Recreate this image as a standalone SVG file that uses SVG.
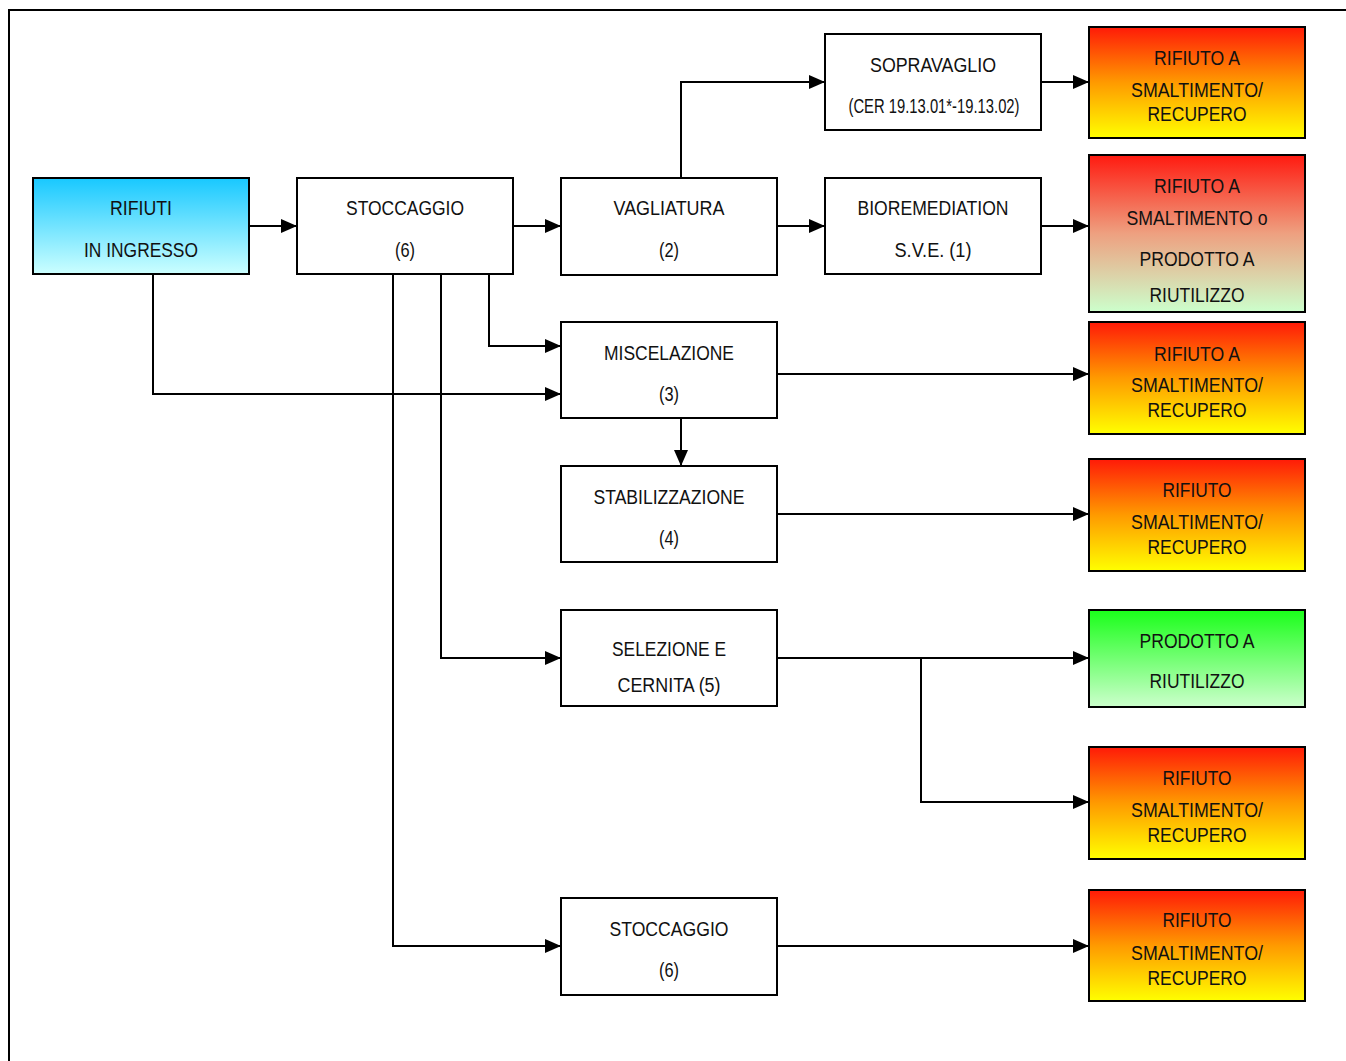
<svg xmlns="http://www.w3.org/2000/svg" width="1346" height="1061" viewBox="0 0 1346 1061">
<style>
.box{stroke:#000;stroke-width:2}
.w{fill:#fff}
.t{font-family:"Liberation Sans",Arial,sans-serif;font-size:20px;fill:#111;text-anchor:middle}
.c{fill:none;stroke:#000;stroke-width:2}
</style>
<defs>
<linearGradient id="gBlue" x1="0" y1="0" x2="0" y2="1"><stop offset="0" stop-color="#18c8ff"/><stop offset="1" stop-color="#ccffff"/></linearGradient>
<linearGradient id="gRY" x1="0" y1="0" x2="0" y2="1"><stop offset="0" stop-color="#ff1a08"/><stop offset="0.5" stop-color="#ff9a00"/><stop offset="1" stop-color="#ffff00"/></linearGradient>
<linearGradient id="gRG" x1="0" y1="0" x2="0" y2="1"><stop offset="0" stop-color="#ff1a10"/><stop offset="0.5" stop-color="#eea080"/><stop offset="1" stop-color="#ccffcc"/></linearGradient>
<linearGradient id="gG" x1="0" y1="0" x2="0" y2="1"><stop offset="0" stop-color="#1aff1a"/><stop offset="1" stop-color="#ccffcc"/></linearGradient>
<marker id="arr" markerWidth="16" markerHeight="14" refX="16" refY="7" orient="auto" markerUnits="userSpaceOnUse"><path d="M0,0 L16,7 L0,14 Z" fill="#000"/></marker>
</defs>
<rect width="1346" height="1061" fill="#fff"/>
<path d="M9,1061 V10 H1346" class="c"/>

<g id="rifiuti-ingresso"><rect class="box" x="33" y="178" width="216" height="96" fill="url(#gBlue)"/>
<text class="t" x="141" y="215" textLength="62" lengthAdjust="spacingAndGlyphs">RIFIUTI</text>
<text class="t" x="141" y="257" textLength="114" lengthAdjust="spacingAndGlyphs">IN INGRESSO</text></g>

<g id="stoccaggio1"><rect class="box w" x="297" y="178" width="216" height="96"/>
<text class="t" x="405" y="215" textLength="118" lengthAdjust="spacingAndGlyphs">STOCCAGGIO</text>
<text class="t" x="405" y="257" textLength="20" lengthAdjust="spacingAndGlyphs">(6)</text></g>

<g id="vagliatura"><rect class="box w" x="561" y="178" width="216" height="97"/>
<text class="t" x="669" y="215" textLength="111" lengthAdjust="spacingAndGlyphs">VAGLIATURA</text>
<text class="t" x="669" y="257" textLength="20" lengthAdjust="spacingAndGlyphs">(2)</text></g>

<g id="sopravaglio"><rect class="box w" x="825" y="34" width="216" height="96"/>
<text class="t" x="933" y="72" textLength="126" lengthAdjust="spacingAndGlyphs">SOPRAVAGLIO</text>
<text class="t" x="934" y="113" textLength="171" lengthAdjust="spacingAndGlyphs">(CER 19.13.01*-19.13.02)</text></g>

<g id="bioremediation"><rect class="box w" x="825" y="178" width="216" height="96"/>
<text class="t" x="933" y="215" textLength="151" lengthAdjust="spacingAndGlyphs">BIOREMEDIATION</text>
<text class="t" x="933" y="257" textLength="77" lengthAdjust="spacingAndGlyphs">S.V.E. (1)</text></g>

<g id="miscelazione"><rect class="box w" x="561" y="322" width="216" height="96"/>
<text class="t" x="669" y="360" textLength="130" lengthAdjust="spacingAndGlyphs">MISCELAZIONE</text>
<text class="t" x="669" y="401" textLength="20" lengthAdjust="spacingAndGlyphs">(3)</text></g>

<g id="stabilizzazione"><rect class="box w" x="561" y="466" width="216" height="96"/>
<text class="t" x="669" y="504" textLength="151" lengthAdjust="spacingAndGlyphs">STABILIZZAZIONE</text>
<text class="t" x="669" y="545" textLength="20" lengthAdjust="spacingAndGlyphs">(4)</text></g>

<g id="selezione"><rect class="box w" x="561" y="610" width="216" height="96"/>
<text class="t" x="669" y="656" textLength="114" lengthAdjust="spacingAndGlyphs">SELEZIONE E</text>
<text class="t" x="669" y="692" textLength="103" lengthAdjust="spacingAndGlyphs">CERNITA (5)</text></g>

<g id="stoccaggio2"><rect class="box w" x="561" y="898" width="216" height="97"/>
<text class="t" x="669" y="936" textLength="119" lengthAdjust="spacingAndGlyphs">STOCCAGGIO</text>
<text class="t" x="669" y="977" textLength="20" lengthAdjust="spacingAndGlyphs">(6)</text></g>

<g id="out1"><rect class="box" x="1089" y="27" width="216" height="111" fill="url(#gRY)"/>
<text class="t" x="1197" y="65" textLength="86" lengthAdjust="spacingAndGlyphs">RIFIUTO A</text>
<text class="t" x="1197" y="97" textLength="132" lengthAdjust="spacingAndGlyphs">SMALTIMENTO/</text>
<text class="t" x="1197" y="121" textLength="99" lengthAdjust="spacingAndGlyphs">RECUPERO</text></g>

<g id="out2"><rect class="box" x="1089" y="155" width="216" height="157" fill="url(#gRG)"/>
<text class="t" x="1197" y="193" textLength="86" lengthAdjust="spacingAndGlyphs">RIFIUTO A</text>
<text class="t" x="1197" y="225" textLength="141" lengthAdjust="spacingAndGlyphs">SMALTIMENTO o</text>
<text class="t" x="1197" y="266" textLength="115" lengthAdjust="spacingAndGlyphs">PRODOTTO A</text>
<text class="t" x="1197" y="302" textLength="95" lengthAdjust="spacingAndGlyphs">RIUTILIZZO</text></g>

<g id="out3"><rect class="box" x="1089" y="322" width="216" height="112" fill="url(#gRY)"/>
<text class="t" x="1197" y="361" textLength="86" lengthAdjust="spacingAndGlyphs">RIFIUTO A</text>
<text class="t" x="1197" y="392" textLength="132" lengthAdjust="spacingAndGlyphs">SMALTIMENTO/</text>
<text class="t" x="1197" y="417" textLength="99" lengthAdjust="spacingAndGlyphs">RECUPERO</text></g>

<g id="out4"><rect class="box" x="1089" y="459" width="216" height="112" fill="url(#gRY)"/>
<text class="t" x="1197" y="497" textLength="69" lengthAdjust="spacingAndGlyphs">RIFIUTO</text>
<text class="t" x="1197" y="529" textLength="132" lengthAdjust="spacingAndGlyphs">SMALTIMENTO/</text>
<text class="t" x="1197" y="554" textLength="99" lengthAdjust="spacingAndGlyphs">RECUPERO</text></g>

<g id="out5"><rect class="box" x="1089" y="610" width="216" height="97" fill="url(#gG)"/>
<text class="t" x="1197" y="648" textLength="115" lengthAdjust="spacingAndGlyphs">PRODOTTO A</text>
<text class="t" x="1197" y="688" textLength="95" lengthAdjust="spacingAndGlyphs">RIUTILIZZO</text></g>

<g id="out6"><rect class="box" x="1089" y="747" width="216" height="112" fill="url(#gRY)"/>
<text class="t" x="1197" y="785" textLength="69" lengthAdjust="spacingAndGlyphs">RIFIUTO</text>
<text class="t" x="1197" y="817" textLength="132" lengthAdjust="spacingAndGlyphs">SMALTIMENTO/</text>
<text class="t" x="1197" y="842" textLength="99" lengthAdjust="spacingAndGlyphs">RECUPERO</text></g>

<g id="out7"><rect class="box" x="1089" y="890" width="216" height="111" fill="url(#gRY)"/>
<text class="t" x="1197" y="927" textLength="69" lengthAdjust="spacingAndGlyphs">RIFIUTO</text>
<text class="t" x="1197" y="960" textLength="132" lengthAdjust="spacingAndGlyphs">SMALTIMENTO/</text>
<text class="t" x="1197" y="985" textLength="99" lengthAdjust="spacingAndGlyphs">RECUPERO</text></g>

<g id="connectors" class="c" marker-end="url(#arr)">
<path d="M249,226 H297"/>
<path d="M513,226 H561"/>
<path d="M777,226 H825"/>
<path d="M681,178 V82 H825"/>
<path d="M1041,82 H1089"/>
<path d="M1041,226 H1089"/>
<path d="M489,274 V346 H561"/>
<path d="M153,274 V394 H561"/>
<path d="M441,274 V658 H561"/>
<path d="M393,274 V946 H561"/>
<path d="M777,374 H1089"/>
<path d="M681,418 V466"/>
<path d="M777,514 H1089"/>
<path d="M777,658 H1089"/>
<path d="M921,658 V802 H1089"/>
<path d="M777,946 H1089"/>
</g>
</svg>
